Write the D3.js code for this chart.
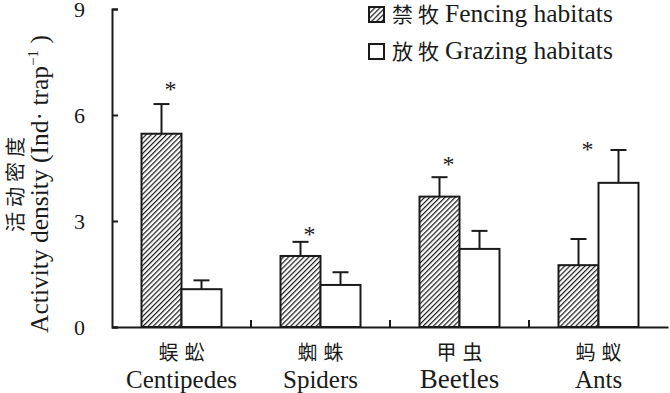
<!DOCTYPE html>
<html><head><meta charset="utf-8">
<script src="https://cdn.jsdelivr.net/npm/d3@7"></script>
<style>
body{margin:0;background:#fff;}
svg{display:block;}
</style></head>
<body><svg id="c" width="670" height="393"></svg>
<script>
const categoriesZh = ["蜈蚣","蜘蛛","甲虫","蚂蚁"];
const categoriesEn = ["Centipedes","Spiders","Beetles","Ants"];
const seriesNames = ["禁牧Fencing habitats","放牧Grazing habitats"];
const fencingMean = [5.47, 2.01, 3.69, 1.75];
const fencingErr  = [6.31, 2.41, 4.24, 2.49];
const grazingMean = [1.07, 1.19, 2.21, 4.08];
const grazingErr  = [1.32, 1.55, 2.72, 5.01];
const starValue   = [6.85, 2.75, 4.73, 5.15];
const yTicks = [0, 3, 6, 9];

const SERIF = '"Liberation Serif","Times New Roman",serif';
const CJK = '"Noto Sans CJK SC",sans-serif';
const INK = "#1a1a1a";

const svg = d3.select("#c");
const defs = svg.append("defs");
const pat = defs.append("pattern").attr("id","hatch").attr("patternUnits","userSpaceOnUse")
  .attr("width",3.6).attr("height",3.6).attr("patternTransform","rotate(45)");
pat.append("rect").attr("width",3.6).attr("height",3.6).attr("fill","#fff");
pat.append("line").attr("x1",0.6).attr("y1",0).attr("x2",0.6).attr("y2",3.6)
  .attr("stroke",INK).attr("stroke-width",1.2);

const x0 = d3.scaleBand().domain(categoriesEn).range([112, 668]).paddingInner(0.4245).paddingOuter(0.21225);
const x1 = d3.scaleBand().domain(["f","g"]).range([0, x0.bandwidth()]);
const y = d3.scaleLinear().domain([0, 9]).range([327, 9]);

const data = categoriesEn.map((c,i)=>[
  {c, k:"f", v:fencingMean[i], e:fencingErr[i]},
  {c, k:"g", v:grazingMean[i], e:grazingErr[i]}
]).flat();

// error bars
const eb = svg.append("g").attr("stroke",INK).attr("stroke-width",2);
data.forEach(d=>{
  const cx = x0(d.c) + x1(d.k) + x1.bandwidth()/2;
  eb.append("line").attr("x1",cx).attr("x2",cx).attr("y1",y(d.v)).attr("y2",y(d.e));
  eb.append("line").attr("x1",cx-8).attr("x2",cx+8).attr("y1",y(d.e)).attr("y2",y(d.e));
});

// bars
svg.append("g").selectAll("rect").data(data).join("rect")
  .attr("x", d=>x0(d.c)+x1(d.k))
  .attr("y", d=>y(d.v))
  .attr("width", x1.bandwidth())
  .attr("height", d=>y(0)-y(d.v))
  .attr("fill", d=>d.k==="f"?"url(#hatch)":"#fff")
  .attr("stroke",INK).attr("stroke-width",2);

// stars
svg.append("g").selectAll("text").data(categoriesEn).join("text")
  .style("font-family",SERIF)
  .attr("x",(c)=>x0(c)+x1("f")+x1.bandwidth()/2+9)
  .attr("y",(c,i)=>y(starValue[i])+12)
  .attr("text-anchor","middle").style("font-size","24px").attr("fill",INK)
  .text("*");

// y axis
const yAxis = d3.axisLeft(y).tickValues(yTicks).tickSize(-6).tickPadding(27).tickFormat(d3.format("d"));
const gy = svg.append("g").attr("transform","translate(112,0)").call(yAxis);
gy.selectAll(".domain").attr("stroke",INK).attr("stroke-width",2);
gy.selectAll(".tick line").attr("stroke",INK).attr("stroke-width",2);
gy.selectAll(".tick text").style("font-family",SERIF).style("font-size","22px").attr("fill",INK)
  .attr("dy","0.36em");

// x axis
const gx = svg.append("g").attr("transform","translate(0,327)")
  .call(d3.axisBottom(x0).tickSize(0).tickFormat(""));
gx.select(".domain").attr("stroke",INK).attr("stroke-width",2);
const step = x0.step();
const bounds = categoriesEn.slice(0,-1).map(c=>x0(c)+x0.bandwidth()+(step-x0.bandwidth())/2);
svg.append("g").selectAll("line").data(bounds).join("line")
  .attr("x1",d=>d).attr("x2",d=>d).attr("y1",327).attr("y2",320)
  .attr("stroke",INK).attr("stroke-width",2);

// category labels
const lab = svg.append("g");
categoriesEn.forEach((c,i)=>{
  const cx = x0(c)+x0.bandwidth()/2;
  lab.append("text").style("font-family",CJK).attr("x",cx+3).attr("y",360)
    .attr("text-anchor","middle").style("font-size","20px").attr("letter-spacing",6)
    .attr("fill",INK).text(categoriesZh[i]);
  lab.append("text").style("font-family",SERIF).attr("x",cx).attr("y",388)
    .attr("text-anchor","middle").style("font-size",(c==="Beetles"?27:25)+"px")
    .attr("fill",INK).text(c);
});

// y title
const yt = svg.append("g");
yt.append("text").style("font-family",CJK).attr("transform","translate(23,182) rotate(-90)")
  .attr("text-anchor","middle").style("font-size","20px").attr("letter-spacing",5)
  .attr("fill",INK).text("活动密度");
const t2 = yt.append("text").style("font-family",SERIF).attr("transform","translate(48,184) rotate(-90)")
  .attr("text-anchor","middle").style("font-size","25.5px").attr("fill",INK);
t2.append("tspan").text("Activity density (Ind· trap");
t2.append("tspan").style("font-size","15px").attr("dy",-10).text("−1");
t2.append("tspan").attr("dy",10).text(" )");

// legend
const lg = svg.append("g");
[0,1].forEach(i=>{
  const ty = i===0 ? 7 : 44;
  lg.append("rect").attr("x",369).attr("y",ty).attr("width",15).attr("height",15)
    .attr("fill", i===0?"url(#hatch)":"#fff").attr("stroke",INK).attr("stroke-width",2);
  const t = lg.append("text").attr("x",392).attr("y",ty+15).attr("fill",INK);
  t.append("tspan").style("font-family",CJK).style("font-size","21px").attr("letter-spacing",5)
    .text(seriesNames[i].slice(0,2));
  t.append("tspan").style("font-family",SERIF).style("font-size","25.5px").attr("dx",1)
    .text(seriesNames[i].slice(2));
});
</script></body></html>
